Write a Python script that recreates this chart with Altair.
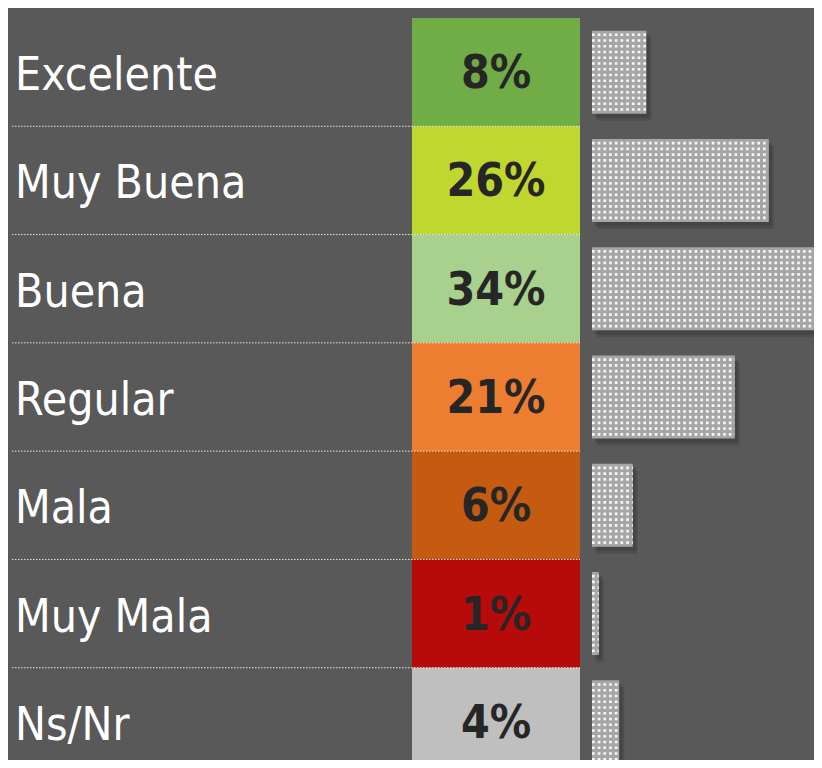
import altair as alt
import pandas as pd

categories = ["Excelente", "Muy Buena", "Buena", "Regular", "Mala", "Muy Mala", "Ns/Nr"]
values = [8, 26, 34, 21, 6, 1, 4]
labels = ["8%", "26%", "34%", "21%", "6%", "1%", "4%"]
colors = ["#70AD47", "#C0D72F", "#A9D18E", "#ED7D31", "#C55A11", "#B70A0A", "#BFBFBF"]

df = pd.DataFrame({"cat": categories, "value": values, "label": labels, "color": colors})
df["zero"] = 0

FONT = "DejaVu Sans Condensed, DejaVu Sans, sans-serif"
BAR = 83

ysc = alt.Scale(domain=categories, paddingInner=0, paddingOuter=0, range=[10, 768])
y = alt.Y("cat:N", scale=ysc, axis=None)
xsc = alt.Scale(domain=[0, 100], range=[584, 1264])
xq = alt.X("value:Q", scale=xsc, axis=None)

base = alt.Chart(df)

cells = base.mark_rect().encode(
    x=alt.value(404), x2=alt.value(572), y=y,
    color=alt.Color("color:N", scale=None),
)

seps = base.transform_filter(alt.datum.cat != "Excelente").mark_rule(
    color="white", strokeDash=[1.5, 1.5], strokeWidth=1, opacity=0.85
).encode(
    x=alt.value(4), x2=alt.value(572),
    y=alt.Y("cat:N", scale=ysc, axis=None, bandPosition=0),
)

names = base.mark_text(
    align="left", baseline="middle", font=FONT, fontSize=46, color="white", dy=4
).encode(x=alt.value(7), y=y, text="cat:N")

pcts = base.mark_text(
    align="center", baseline="middle", font=FONT, fontSize=46, fontWeight="bold",
    color="#262626", dy=2
).encode(x=alt.value(488), y=y, text="label:N")

shadow1 = base.mark_bar(size=BAR, color="#2e2e2e", opacity=0.30, xOffset=3, yOffset=4).encode(x=xq, y=y)
shadow2 = base.mark_bar(size=BAR, color="#2e2e2e", opacity=0.25, xOffset=5, yOffset=7).encode(x=xq, y=y)
bars = base.mark_bar(size=BAR, color="#a6a6a6").encode(x=xq, y=y)

dot_layers = []
n_rows = 14
pitch = 5.75
for i in range(n_rows):
    off = (i - (n_rows - 1) / 2) * pitch
    dot_layers.append(
        base.mark_rule(
            color="#f6f6f6", strokeWidth=2.7, strokeDash=[2.7, 3.0], yOffset=off
        ).encode(x=alt.X("zero:Q", scale=xsc, axis=None), x2="value:Q", y=y)
    )

chart = alt.layer(cells, seps, names, pcts, shadow2, shadow1, bars, *dot_layers).properties(
    width=806, height=752,
    padding={"top": 0, "left": 0, "right": 0, "bottom": 0},
    autosize=alt.AutoSizeParams(type="none"),
    background="#595959",
).configure_view(stroke=None)

chart.save("out.html", embed_options={"renderer": "svg", "actions": False})
